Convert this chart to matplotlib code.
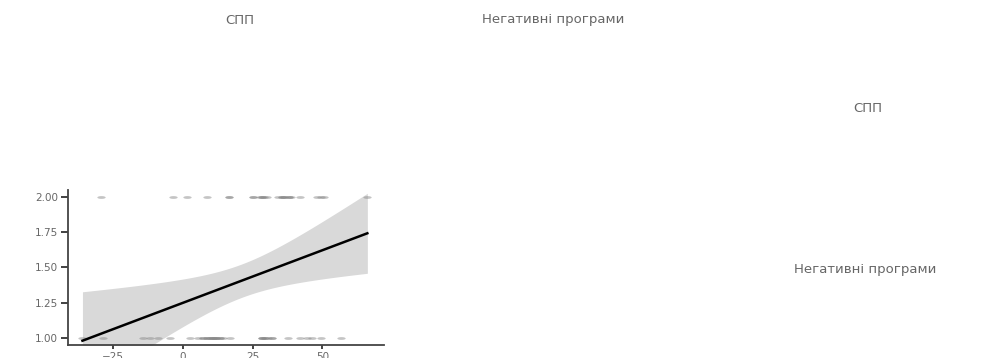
import numpy as np
import matplotlib.pyplot as plt
from matplotlib.path import Path
from matplotlib.transforms import Affine2D

# негативні програми (x) vs СПП (y, 1 або 2)
x_spp2 = [-29.3, -3.6, 1.4, 8.6, 16.4, 16.4, 25.0, 25.0, 27.5, 28.2,
          28.2, 29.0, 30.0, 33.9, 35.4, 35.4, 36.4, 36.4, 37.9, 37.9,
          38.9, 41.8, 48.2, 49.6, 50.4, 66.1]
x_spp1 = [-36.0, -28.6, -14.3, -11.8, -8.9, -4.6, 2.5, 5.4, 7.1, 7.1,
          8.6, 8.6, 9.6, 9.6, 10.7, 10.7, 10.7, 11.8, 11.8, 12.0,
          13.2, 13.2, 14.3, 16.8, 28.2, 28.5, 28.5, 29.3, 29.5, 30.4,
          32.1, 32.1, 37.5, 41.8, 44.3, 46.4, 49.6, 56.8]

x = np.array(x_spp2 + x_spp1)
y = np.array([2.0] * len(x_spp2) + [1.0] * len(x_spp1))

# linear fit with 95% confidence band
n = len(x)
slope, intercept = np.polyfit(x, y, 1)
resid = y - (slope * x + intercept)
s = np.sqrt(np.sum(resid ** 2) / (n - 2))
sxx = np.sum((x - x.mean()) ** 2)
xs = np.linspace(x.min(), x.max(), 100)
fit = slope * xs + intercept
half = 2.0 * s * np.sqrt(1.0 / n + (xs - x.mean()) ** 2 / sxx)

# stretched dot marker
dot = Path.unit_circle().transformed(Affine2D().scale(3.0, 1.0))

fig = plt.figure(figsize=(9.95, 3.58), dpi=100)
ax = fig.add_axes([0.0683, 0.0363, 0.318, 0.433])

ax.fill_between(xs, fit - half, fit + half, color='#d9d9d9', lw=0, zorder=1)
ax.plot(x, y, ls='none', marker=dot, ms=6, color='#8a8a8a', alpha=0.5,
        mec='none', zorder=2)
ax.plot(xs, fit, color='black', lw=1.8, zorder=3)

ax.set_xlim(-41.2, 72.2)
ax.set_ylim(0.95, 2.05)
ax.set_xticks([-25, 0, 25, 50])
ax.set_yticks([1.0, 1.25, 1.5, 1.75, 2.0])
ax.set_yticklabels(['1.00', '1.25', '1.50', '1.75', '2.00'])

for side in ['top', 'right']:
    ax.spines[side].set_visible(False)
for side in ['left', 'bottom']:
    ax.spines[side].set_color('#444444')
    ax.spines[side].set_linewidth(1.3)
ax.tick_params(axis='both', colors='#333333', labelcolor='#666666',
               labelsize=7.5, width=1.3, pad=2)
ax.tick_params(axis='x', length=3)
ax.tick_params(axis='y', length=5)

# strip labels
lbl = dict(color='#666666', fontsize=9.5, ha='center', va='center')
fig.text(240 / 995, 1 - 20 / 358, 'СПП', **lbl)
fig.text(553 / 995, 1 - 20 / 358, 'Негативні програми', **lbl)
fig.text(868 / 995, 1 - 108 / 358, 'СПП', **lbl)
fig.text(865 / 995, 1 - 270 / 358, 'Негативні програми', **lbl)

fig.savefig('out.png', dpi=100)
